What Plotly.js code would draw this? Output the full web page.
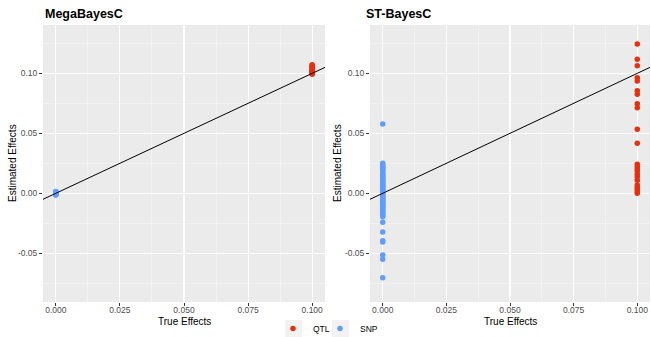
<!DOCTYPE html>
<html><head><meta charset="utf-8">
<script src="https://cdn.plot.ly/plotly-3.0.1.min.js"></script>
<style>html,body{margin:0;padding:0;background:#fff}#chart{width:651px;height:337px}</style>
</head><body><div id="chart"></div>
<script>
// ---- data ----
const panelTitles = ["MegaBayesC", "ST-BayesC"];
const groupNames = ["QTL", "SNP"];
const groupColors = ["#E8300E", "#619CFF"];
const qtlTrueEffect = 0.1;
const snpTrueEffect = 0.0;

const megaQtlEst = [0.0993, 0.0998, 0.1002, 0.1006, 0.1010, 0.1014, 0.1018, 0.1022, 0.1027, 0.1032, 0.1038, 0.1045, 0.1052, 0.1060, 0.1066, 0.1072];
const megaSnpEst = [-0.0015, -0.0012, -0.0009, -0.0006, -0.0004, -0.0002, 0.0000, 0.0002, 0.0004, 0.0006, 0.0009, 0.0012, 0.0015];

const stQtlEst = [0.1244, 0.1117, 0.1064, 0.0964, 0.0936, 0.0855, 0.0825, 0.0747, 0.0714, 0.0533, 0.0417,
  0.0242, 0.0222, 0.0203, 0.0186, 0.0161, 0.0139, 0.0108, 0.0069, 0.0050, 0.0033, 0.0013, 0.0000];
const stSnpEst = [0.0578, 0.0250, 0.0238, 0.0226, 0.0215, 0.0205, 0.0196, 0.0186, 0.0170, 0.0160, 0.0150,
  0.0140, 0.0131, 0.0122, 0.0113, 0.0104, 0.0095, 0.0086, 0.0077, 0.0068, 0.0059, 0.0050, 0.0041,
  0.0032, 0.0023, 0.0014, 0.0005, -0.0004, -0.0013, -0.0022, -0.0031, -0.0040, -0.0049, -0.0058,
  -0.0067, -0.0076, -0.0085, -0.0094, -0.0103, -0.0112, -0.0121, -0.0130, -0.0140, -0.0150, -0.0160,
  -0.0170, -0.0180, -0.0188, -0.0195, -0.0242, -0.0323, -0.0395, -0.0406, -0.0514, -0.0550, -0.0703];

const ablineSlope = 1;
const ablineIntercept = 0;

const xTickVals = [0, 0.025, 0.05, 0.075, 0.1];
const xTickText = ["0.000", "0.025", "0.050", "0.075", "0.100"];
const yTickVals = [-0.05, 0, 0.05, 0.10];
const yTickText = ["-0.05", "0.00", "0.05", "0.10"];
const xRange = [-0.005, 0.105];
const yRange = [-0.0906, 0.1403];

// ---- layout helpers ----
const W = 651, H = 337;
const px = x => x / W;
const py = y => 1 - y / H;
const FONT = "Liberation Sans, Arial, sans-serif";

const panels = [
  {qtl: megaQtlEst, snp: megaSnpEst, xa: "x", ya: "y"},
  {qtl: stQtlEst, snp: stSnpEst, xa: "x2", ya: "y2"}
];

const traces = [];
panels.forEach((p, i) => {
  traces.push({
    type: "scatter", mode: "markers", name: groupNames[0], legend: "legend",
    showlegend: i === 0, x: p.qtl.map(() => qtlTrueEffect), y: p.qtl,
    xaxis: p.xa, yaxis: p.ya, marker: {color: groupColors[0], size: 5.5}, hoverinfo: "skip"
  });
  traces.push({
    type: "scatter", mode: "markers", name: groupNames[1], legend: "legend2",
    showlegend: i === 0, x: p.snp.map(() => snpTrueEffect), y: p.snp,
    xaxis: p.xa, yaxis: p.ya, marker: {color: groupColors[1], size: 5.5}, hoverinfo: "skip"
  });
});
panels.forEach(p => {
  traces.push({
    type: "scatter", mode: "lines", showlegend: false,
    x: xRange, y: xRange.map(v => ablineSlope * v + ablineIntercept),
    xaxis: p.xa, yaxis: p.ya, line: {color: "#000", width: 1}, hoverinfo: "skip"
  });
});

function xAxis(dom, anchor) {
  return {
    domain: dom, anchor: anchor, range: xRange, tickvals: xTickVals, ticktext: xTickText,
    showgrid: true, gridcolor: "#FFFFFF", gridwidth: 1.1, zeroline: false, showline: false,
    ticks: "outside", ticklen: 3, tickcolor: "#333333", tickwidth: 1, automargin: false,
    ticklabelstandoff: -3,
    tickfont: {family: FONT, size: 8.5, color: "#4D4D4D"},
    minor: {dtick: 0.0125, tick0: 0.0125, showgrid: true, gridcolor: "#F7F7F7", gridwidth: 0.6, ticks: ""}
  };
}
function yAxis(anchor) {
  return {
    domain: [py(302), py(25)], anchor: anchor, range: yRange, tickvals: yTickVals, ticktext: yTickText,
    showgrid: true, gridcolor: "#FFFFFF", gridwidth: 1.1, zeroline: false, showline: false,
    ticks: "outside", ticklen: 3, tickcolor: "#333333", tickwidth: 1, automargin: false,
    tickfont: {family: FONT, size: 8.5, color: "#4D4D4D"},
    minor: {dtick: 0.05, tick0: 0.025, showgrid: true, gridcolor: "#F7F7F7", gridwidth: 0.6, ticks: ""}
  };
}

const annFont = {family: FONT, size: 10, color: "#000"};
const annotations = [
  {text: "<b>" + panelTitles[0] + "</b>", x: px(43), y: py(14), xanchor: "left", yanchor: "middle", font: {family: FONT, size: 12.5, color: "#000"}},
  {text: "<b>" + panelTitles[1] + "</b>", x: px(364), y: py(14), xanchor: "left", yanchor: "middle", font: {family: FONT, size: 12.5, color: "#000"}},
  {text: "Estimated Effects", x: px(12.5), y: py(163.5), textangle: -90, xanchor: "center", yanchor: "middle", font: annFont},
  {text: "Estimated Effects", x: px(337.5), y: py(163.5), textangle: -90, xanchor: "center", yanchor: "middle", font: annFont},
  {text: "True Effects", x: px(184), y: py(321.5), xanchor: "center", yanchor: "middle", font: annFont},
  {text: "True Effects", x: px(510), y: py(321.5), xanchor: "center", yanchor: "middle", font: annFont}
].map(a => Object.assign({xref: "paper", yref: "paper", showarrow: false}, a));

const shapes = [
  {x0: px(285), x1: px(302), y0: py(337), y1: py(320)},
  {x0: px(332), x1: px(349), y0: py(337), y1: py(320)}
].map(s => Object.assign({type: "rect", xref: "paper", yref: "paper", fillcolor: "#F2F2F2", line: {width: 0}, layer: "below"}, s));

const legendBase = {orientation: "h", xanchor: "left", yanchor: "middle",
  bgcolor: "rgba(0,0,0,0)", font: {family: FONT, size: 8.5, color: "#000"}, itemwidth: 30};

const layout = {
  width: W, height: H, margin: {l: 0, r: 0, t: 0, b: 0, autoexpand: false},
  paper_bgcolor: "#FFFFFF", plot_bgcolor: "#EBEBEB",
  font: {family: FONT},
  xaxis: xAxis([px(43), px(325)], "y"),
  yaxis: yAxis("x"),
  xaxis2: xAxis([px(370), px(650)], "y2"),
  yaxis2: yAxis("x2"),
  showlegend: true,
  legend: Object.assign({x: px(273), y: py(328.5)}, legendBase),
  legend2: Object.assign({x: px(320), y: py(328.5)}, legendBase),
  annotations: annotations,
  shapes: shapes
};

Plotly.newPlot("chart", traces, layout, {displayModeBar: false, staticPlot: true});
</script>
</body></html>
